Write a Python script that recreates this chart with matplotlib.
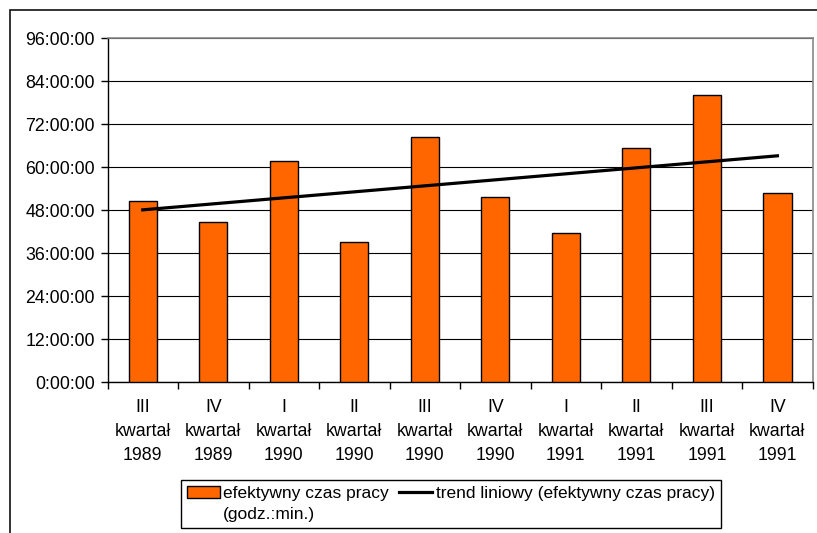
import numpy as np
import matplotlib
matplotlib.use("Agg")
import matplotlib.pyplot as plt
from matplotlib.ticker import FuncFormatter, FixedLocator
from matplotlib.patches import Rectangle

plt.rcParams['font.family'] = ['Liberation Sans', 'DejaVu Sans']

# dane: kwartały i efektywny czas pracy (godz.:min.)
kwartaly = ["III", "IV", "I", "II", "III", "IV", "I", "II", "III", "IV"]
lata = ["1989", "1989", "1990", "1990", "1990", "1990", "1991", "1991", "1991", "1991"]
czas_pracy = ["50:36", "44:48", "61:42", "39:00", "68:30",
              "51:42", "41:36", "65:24", "80:12", "52:42"]


def na_godziny(s):
    h, m = s.split(":")
    return int(h) + int(m) / 60


godziny = np.array([na_godziny(s) for s in czas_pracy])
x = np.arange(len(godziny))
etykiety = [f"{k}\nkwartał\n{r}" for k, r in zip(kwartaly, lata)]

# trend liniowy
a, b = np.polyfit(x, godziny, 1)
trend = a * x + b

fs = 12.8
fig = plt.figure(figsize=(8.17, 5.33), dpi=100)
ax = fig.add_axes([0.1316, 0.2827, 0.9947 - 0.1316, 0.9287 - 0.2827])

# ramka wykresu
fig.patches.append(Rectangle((10 / 817, -0.1), 1.2, 1 - 10 / 533 + 0.1,
                             transform=fig.transFigure, fill=False,
                             edgecolor="#111111", linewidth=1.2, clip_on=False))

slupki = ax.bar(x, godziny, width=0.4, color="#FF6600", edgecolor="black",
                linewidth=1.0, zorder=3)
linia, = ax.plot(x, trend, color="black", linewidth=2.3, zorder=4)

ax.set_xlim(-0.5, len(x) - 0.5)
ax.set_ylim(0, 96)
ax.set_yticks(np.arange(0, 97, 12))
ax.yaxis.set_major_formatter(FuncFormatter(lambda v, p: f"{int(round(v))}:00:00"))
ax.yaxis.grid(True, color="black", linewidth=0.8, zorder=0)

ax.set_xticks(x)
ax.set_xticklabels(etykiety, fontsize=fs, linespacing=1.55)
ax.xaxis.set_minor_locator(FixedLocator(np.arange(-0.5, len(x), 1)))
ax.tick_params(axis="x", which="major", length=0, pad=12)
ax.tick_params(axis="x", which="minor", length=5, width=1, direction="out")
ax.tick_params(axis="y", length=5, width=1, direction="out", labelsize=fs, pad=4)

for s in ["top", "right"]:
    ax.spines[s].set_color("#888888")
    ax.spines[s].set_linewidth(1.2)
for s in ["left", "bottom"]:
    ax.spines[s].set_color("black")
    ax.spines[s].set_linewidth(1.0)

# legenda: druga linia opisu słupków jako pusty wpis
pusty = Rectangle((0, 0), 1, 1, fill=False, edgecolor="none")
leg = fig.legend([slupki, pusty, linia],
                 ["efektywny czas pracy", "(godz.:min.)",
                  "trend liniowy (efektywny czas pracy)"],
                 loc="upper left", bbox_to_anchor=(180.7 / 817, 1 - 480 / 533),
                 ncol=2, fontsize=12.5, frameon=True, fancybox=False,
                 edgecolor="black", framealpha=1, borderpad=0.35,
                 labelspacing=0.35, handlelength=1.9, handleheight=0.65,
                 handletextpad=0.2, columnspacing=0.6, borderaxespad=0)
leg.get_frame().set_linewidth(1.0)

fig.savefig("out.png", dpi=100)
